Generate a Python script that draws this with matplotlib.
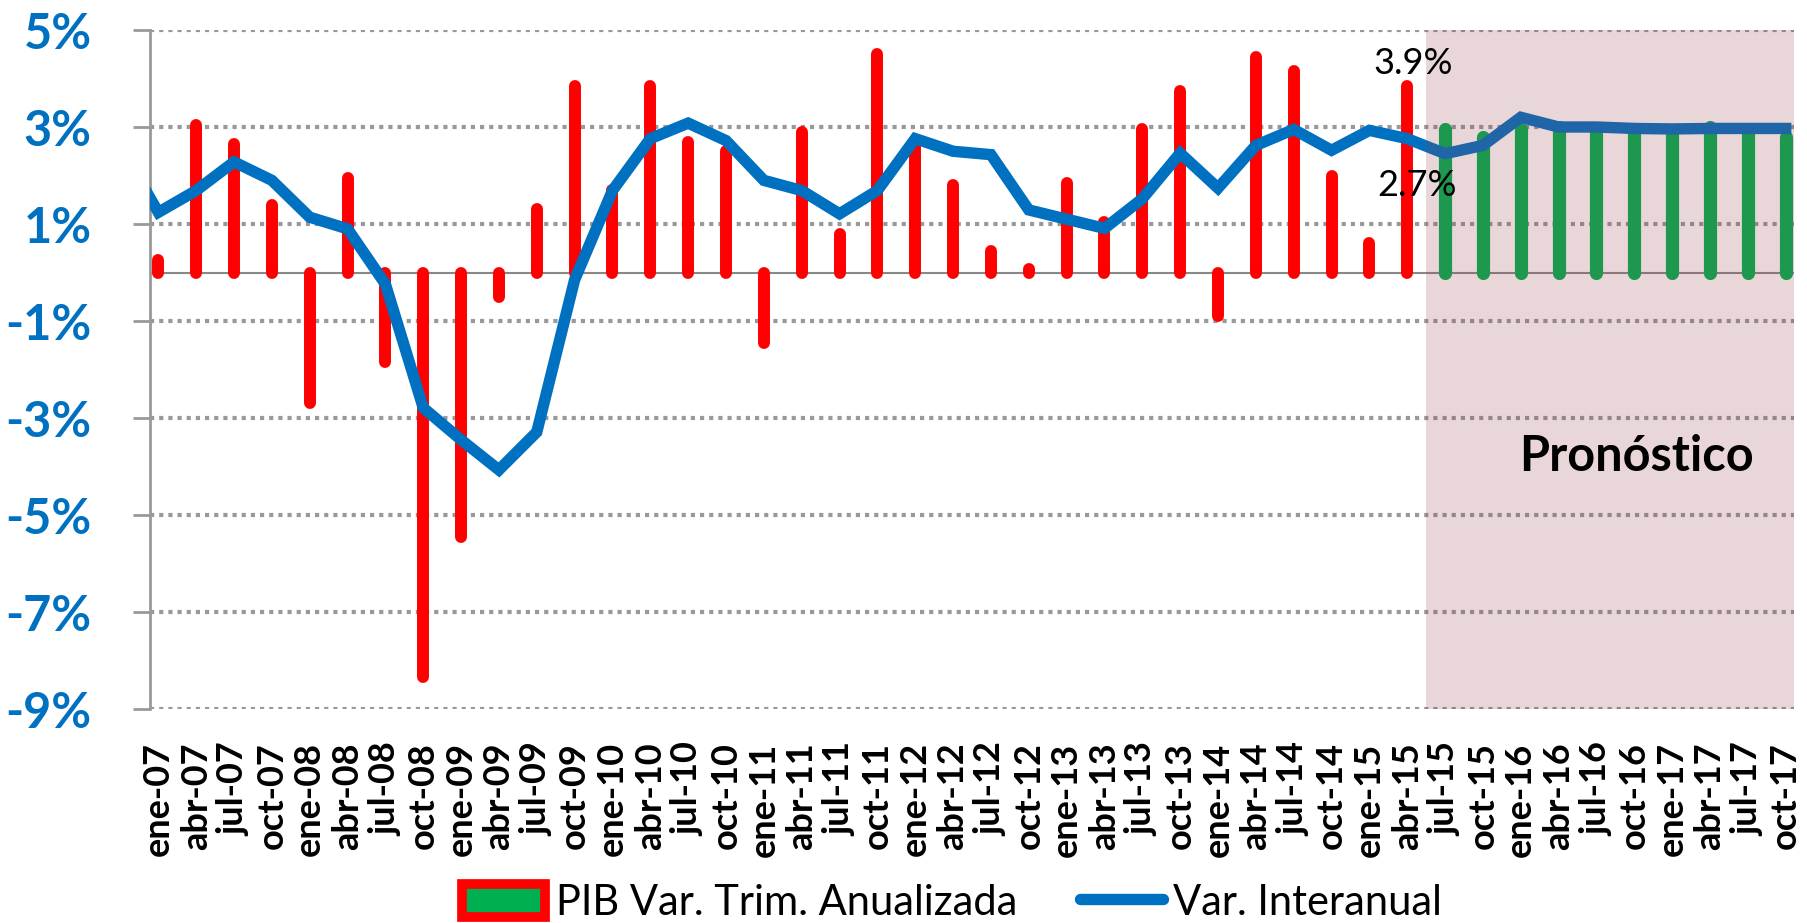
import numpy as np
import matplotlib
matplotlib.use("Agg")
import matplotlib.pyplot as plt
from matplotlib.patches import Patch
from matplotlib.lines import Line2D

plt.rcParams['font.family'] = ['Lato', 'DejaVu Sans']

quarters = ['ene-07', 'abr-07', 'jul-07', 'oct-07', 'ene-08', 'abr-08', 'jul-08', 'oct-08',
            'ene-09', 'abr-09', 'jul-09', 'oct-09', 'ene-10', 'abr-10', 'jul-10', 'oct-10',
            'ene-11', 'abr-11', 'jul-11', 'oct-11', 'ene-12', 'abr-12', 'jul-12', 'oct-12',
            'ene-13', 'abr-13', 'jul-13', 'oct-13', 'ene-14', 'abr-14', 'jul-14', 'oct-14',
            'ene-15', 'abr-15', 'jul-15', 'oct-15', 'ene-16', 'abr-16', 'jul-16', 'oct-16',
            'ene-17', 'abr-17', 'jul-17', 'oct-17']

# PIB var. trimestral anualizada (observado)
pib_obs = [0.25, 3.05, 2.65, 1.4, -2.7, 1.95, -1.85, -8.35,
           -5.45, -0.5, 1.3, 3.85, 1.7, 3.85, 2.7, 2.5,
           -1.45, 2.9, 0.8, 4.5, 2.6, 1.8, 0.45, 0.08,
           1.85, 1.05, 2.95, 3.75, -0.9, 4.45, 4.15, 2.0,
           0.6, 3.85]
# PIB pronóstico
pib_fc = [2.95, 2.8, 2.95, 3.0, 2.9, 2.85, 2.85, 3.0, 2.85, 2.8]

# Var. interanual (oct-06 y luego ene-07 ... oct-17)
interanual_prev = 2.6
interanual = [1.24, 1.69, 2.28, 1.9, 1.14, 0.9, -0.24, -2.79,
              -3.45, -4.07, -3.29, -0.15, 1.69, 2.76, 3.08, 2.72,
              1.9, 1.69, 1.21, 1.69, 2.76, 2.5, 2.43, 1.29,
              1.1, 0.91, 1.52, 2.46, 1.74, 2.62, 2.95, 2.52,
              2.93, 2.76, 2.45, 2.62, 3.2, 3.0, 3.0, 2.97,
              2.96, 2.97, 2.97, 2.97]

yticks = [-9, -7, -5, -3, -1, 1, 3, 5]

blue = '#0070C0'
red = '#FF0000'
green = '#00B050'

fig = plt.figure(figsize=(18.07, 9.23), dpi=100)
ax = fig.add_axes([150 / 1807, 1 - 709 / 923, (1794 - 150) / 1807, (709 - 30) / 923])

x = np.arange(len(quarters))
n_obs = len(pib_obs)

for yv in yticks:
    ax.axhline(yv, color='#999999', lw=3, ls=(0, (1, 1.2)), zorder=1)
ax.axhline(0, color='#888888', lw=1.5, zorder=2)

v1 = ax.vlines(x[:n_obs], 0, pib_obs, color=red, lw=8.6, zorder=3)
v1.set_capstyle('round')
v2 = ax.vlines(x[n_obs:], 0, pib_fc, color=green, lw=9.5, zorder=3)
v2.set_capstyle('round')

ax.plot(np.r_[-1, x], np.r_[interanual_prev, interanual], color=blue, lw=8.2,
        solid_joinstyle='miter', zorder=4)

# zona de pronóstico
ax.axvspan(n_obs - 0.5, len(quarters) - 0.78, facecolor='#94404C',
           alpha=0.21, lw=0, zorder=5)

ax.set_xlim(-0.22, len(quarters) - 0.78)
ax.set_ylim(-9, 5)
ax.set_yticks(yticks)
ax.set_yticklabels(['%d%%' % v for v in yticks], color=blue, fontsize=35, fontweight='bold')
ax.set_xticks(x)
ax.set_xticklabels(quarters, rotation=90, fontsize=26, fontweight='bold')
ax.tick_params(axis='x', length=0, pad=24)
ax.tick_params(axis='y', length=12, width=2, color='#999999', pad=30)

for s in ['top', 'right', 'bottom']:
    ax.spines[s].set_visible(False)
ax.spines['left'].set_color('#999999')
ax.spines['left'].set_linewidth(2)

ax.text(39.05, -3.8, 'Pronóstico', fontsize=35, fontweight='bold', ha='center', va='center', zorder=6)
ax.text(33.15, 4.3, '3.9%', fontsize=26, ha='center', va='center', zorder=6)
ax.text(33.25, 1.79, '2.7%', fontsize=26, ha='center', va='center', zorder=6)

handles = [Patch(facecolor=green, edgecolor=red, linewidth=7),
           Line2D([0], [0], color=blue, lw=8.2, solid_capstyle='round')]
fig.legend(handles, ['PIB Var. Trim. Anualizada', 'Var. Interanual'], loc='center',
           bbox_to_anchor=(952 / 1807, 1 - 903 / 923), ncol=2, frameon=False, fontsize=30,
           handlelength=2.0, handleheight=0.85, columnspacing=1.5, handletextpad=0.25,
           borderpad=0, borderaxespad=0)

fig.savefig('out.png', dpi=100)
